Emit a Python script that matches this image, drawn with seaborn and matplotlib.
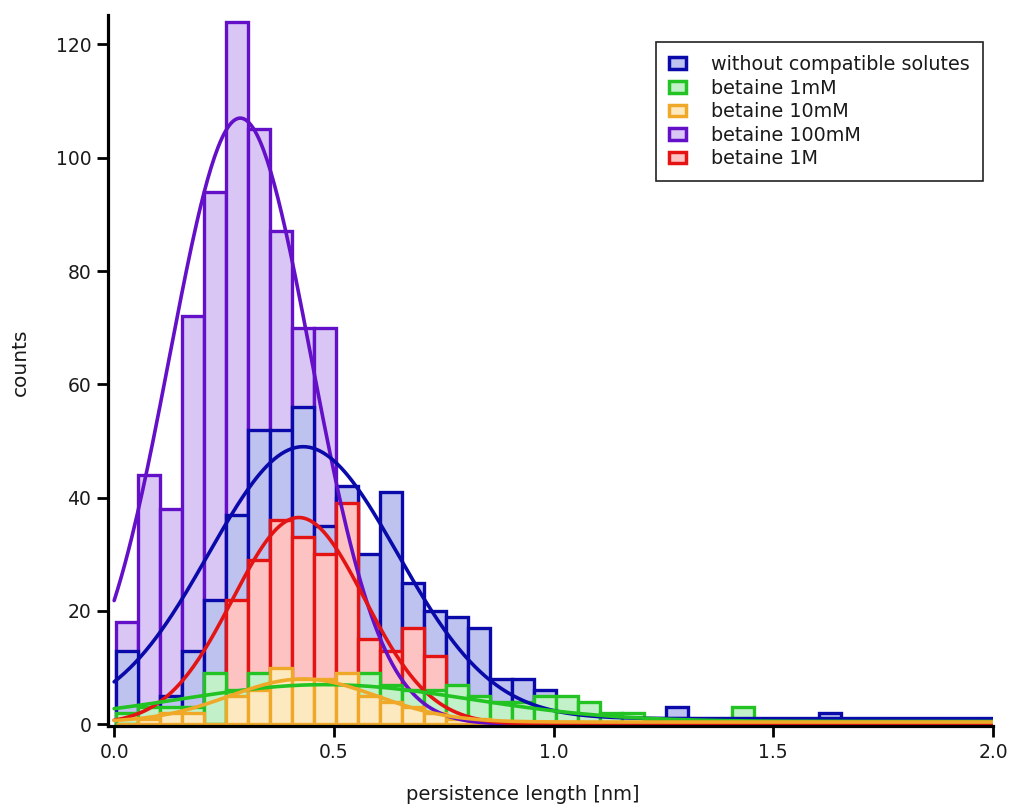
import numpy as np
import pandas as pd
import matplotlib
matplotlib.use("Agg")
import matplotlib.pyplot as plt
from matplotlib.patches import Patch
import seaborn as sns

# ---------------- data ----------------
bin_start = 0.005
bin_width = 0.05
n_bins = 39

labels = ["without compatible solutes", "betaine 1mM", "betaine 10mM",
          "betaine 100mM", "betaine 1M"]

counts_without = [13, 1, 5, 13, 22, 37, 52, 52, 56, 35, 42, 30, 41, 25, 20, 19, 17, 8, 8, 6,
                  3, 2, 1, 1, 1, 3, 1, 1, 1, 1, 1, 1, 2, 1, 1, 1, 1, 1, 1]
counts_1mM = [2, 3, 3, 3, 9, 6, 9, 7, 7, 7, 7, 9, 7, 6, 6, 7, 5, 4, 4, 5,
              5, 4, 2, 2, 1, 1, 1, 1, 3, 1, 1, 1, 1, 1, 0, 0, 0, 0, 0]
counts_10mM = [0, 1, 2, 2, 0, 5, 6, 10, 8, 8, 9, 5, 4, 3, 2, 1, 1, 0, 0, 0,
               0, 0, 0, 0, 0, 0, 0, 0, 0, 0, 0, 0, 0, 0, 0, 0, 0, 0, 0]
counts_100mM = [18, 44, 38, 72, 94, 124, 105, 87, 70, 70, 40, 12, 6, 3, 1, 1, 0, 0, 0, 0,
                0, 0, 0, 0, 0, 0, 0, 0, 0, 0, 0, 0, 0, 0, 0, 0, 0, 0, 0]
counts_1M = [0, 1, 2, 2, 3, 22, 29, 36, 33, 30, 39, 15, 13, 17, 12, 2, 3, 1, 2, 1,
             1, 0, 0, 0, 0, 0, 0, 0, 0, 0, 0, 0, 0, 0, 0, 0, 0, 0, 0]

# Gaussian fit parameters: (baseline, amplitude, centre, sigma)
fit_without = (1.0, 48.0, 0.43, 0.215)
fit_1mM = (0.5, 6.5, 0.48, 0.33)
fit_10mM = (0.4, 7.6, 0.43, 0.167)
fit_100mM = (0.0, 107.0, 0.287, 0.161)
fit_1M = (0.0, 36.5, 0.42, 0.15)

edge_colors = ["#0A0AAA", "#22C322", "#F0A828", "#6410C8", "#E41414"]
face_colors = ["#BEC2EE", "#C2F0C9", "#FDE9C0", "#D9C6F5", "#FDC2C2"]

# ---------------- figure ----------------
sns.set_theme(style="ticks")
plt.rcParams["font.family"] = ["DejaVu Sans"]

fig = plt.figure(figsize=(10.12, 8.05), dpi=100)
ax = fig.add_axes([108 / 1012, 79 / 805, 885 / 1012, 711 / 805])

edges = bin_start + bin_width * np.arange(n_bins + 1)
centers = (edges[:-1] + edges[1:]) / 2
edge_list = [float(e) for e in edges]

all_counts = [counts_without, counts_1mM, counts_10mM, counts_100mM, counts_1M]
all_fits = [fit_without, fit_1mM, fit_10mM, fit_100mM, fit_1M]

draw_order = [3, 0, 4, 1, 2]  # purple at back, then blue, red, green, yellow
for i in draw_order:
    df = pd.DataFrame({"x": centers, "w": all_counts[i]})
    sns.histplot(data=df, x="x", weights="w", bins=edge_list, ax=ax,
                 facecolor=face_colors[i], edgecolor=edge_colors[i],
                 linewidth=2.4, alpha=1, legend=False)

xs = np.linspace(0.0, 2.0, 500)
for i in draw_order:
    y0, a, x0, s = all_fits[i]
    ys = y0 + a * np.exp(-((xs - x0) ** 2) / (2 * s ** 2))
    sns.lineplot(x=xs, y=ys, color=edge_colors[i], linewidth=2.6, ax=ax)

ax.set_xlim(-0.014, 2.0)
ax.set_ylim(-0.3, 125.2)
ax.set_xticks([0.0, 0.5, 1.0, 1.5, 2.0])
ax.set_xticklabels(["0.0", "0.5", "1.0", "1.5", "2.0"])
ax.set_yticks([0, 20, 40, 60, 80, 100, 120])

for sp in ["top", "right"]:
    ax.spines[sp].set_visible(False)
for sp in ["left", "bottom"]:
    ax.spines[sp].set_linewidth(2.3)
    ax.spines[sp].set_color("black")

ax.tick_params(axis="both", direction="out", length=8, width=2.0,
               labelsize=13.5, color="black", labelcolor="#1a1a1a", pad=4)

ax.set_xlabel("persistence length [nm]", fontsize=14, color="#1a1a1a")
ax.set_ylabel("counts", fontsize=14.5, color="#1a1a1a")
ax.xaxis.set_label_coords(0.469, -0.083)
ax.yaxis.set_label_coords(-0.088, 0.512)

handles = [Patch(facecolor=face_colors[i], edgecolor=edge_colors[i], linewidth=2.5)
           for i in range(5)]
leg = ax.legend(handles, labels, loc="upper right", bbox_to_anchor=(0.9887, 0.962),
                borderaxespad=0, fontsize=13.8, frameon=True, fancybox=False,
                framealpha=1, edgecolor="#222222", handlelength=0.9,
                handleheight=0.55, handletextpad=1.3, labelspacing=0.24,
                borderpad=0.68)
leg.get_frame().set_linewidth(1.2)
for t in leg.get_texts():
    t.set_color("#1a1a1a")

fig.savefig("out.png", dpi=100, facecolor="white")
